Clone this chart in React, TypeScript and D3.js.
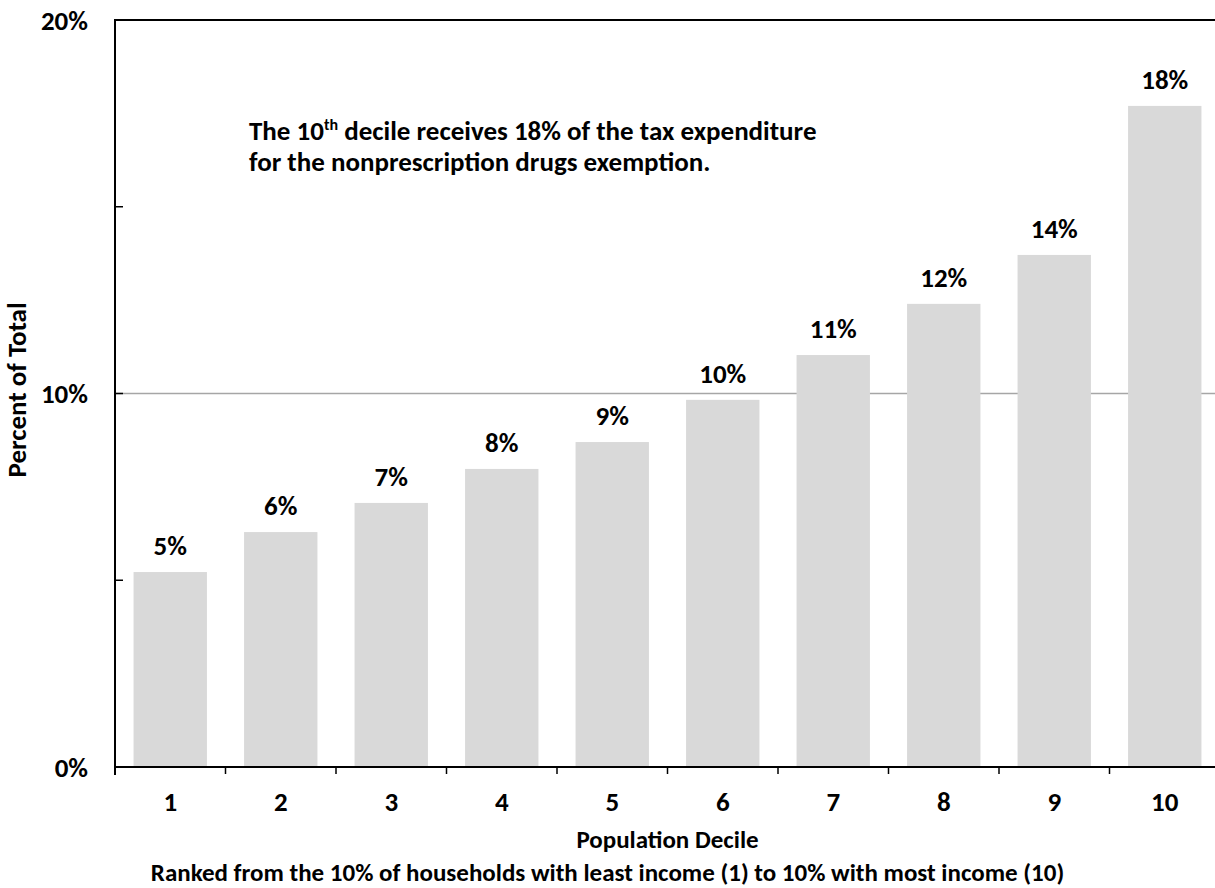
import React from 'react';
import * as d3 from 'd3';

const deciles = ['1', '2', '3', '4', '5', '6', '7', '8', '9', '10'];
const shares = [5.22, 6.29, 7.07, 7.98, 8.7, 9.83, 11.03, 12.4, 13.71, 17.7];
const barLabels = ['5%', '6%', '7%', '8%', '9%', '10%', '11%', '12%', '14%', '18%'];
const majorTicks = [0, 10, 20];
const minorTicks = [5, 15];
const yTickLabels = ['0%', '10%', '20%'];

const FONT = 'Carlito, Lato, "Open Sans", sans-serif';

export default function App() {
  const W = 1215;
  const H = 888;
  const left = 115;
  const right = 1220;
  const top = 20;
  const bottom = 767;

  const x = d3.scaleBand<string>().domain(deciles).range([left, right]).paddingInner(0.336).paddingOuter(0.168);
  const y = d3.scaleLinear().domain([0, 20]).range([bottom, top]);
  const step = x.step();
  const boundaries = d3.range(deciles.length + 1).map((i) => left + i * step);

  return (
    <svg width={W} height={H} style={{ position: 'absolute', left: 0, top: 0, background: '#fff' }} fontFamily={FONT} fontWeight="bold">
      {/* gridline at 10% */}
      <line x1={left} x2={W} y1={y(10)} y2={y(10)} stroke="#a6a6a6" strokeWidth={1.5} />
      {/* bars */}
      {shares.map((v, i) => (
        <rect key={i} x={x(deciles[i])} y={y(v)} width={x.bandwidth()} height={y(0) - y(v)} fill="#d9d9d9" />
      ))}
      {/* bar labels */}
      {shares.map((v, i) => (
        <text key={'l' + i} x={(x(deciles[i]) as number) + x.bandwidth() / 2} y={y(v) - 17} textAnchor="middle" fontSize={27} fill="#000">
          {barLabels[i]}
        </text>
      ))}
      {/* frame: top line */}
      <line x1={left} x2={W} y1={top} y2={top} stroke="#000" strokeWidth={2} />
      {/* y axis */}
      <line x1={left} x2={left} y1={top - 1} y2={bottom + 8} stroke="#000" strokeWidth={2} />
      {[...majorTicks, ...minorTicks].map((t) => (
        <line key={'yt' + t} x1={left} x2={left + 8} y1={y(t)} y2={y(t)} stroke="#000" strokeWidth={1.5} />
      ))}
      {majorTicks.map((t, i) => (
        <text key={'yl' + t} x={88} y={y(t)} dy="0.36em" textAnchor="end" fontSize={27} fill="#000">
          {yTickLabels[i]}
        </text>
      ))}
      {/* x axis */}
      <line x1={left - 1} x2={W} y1={bottom} y2={bottom} stroke="#000" strokeWidth={2} />
      {boundaries.map((b, i) => (
        <line key={'xt' + i} x1={b} x2={b} y1={bottom} y2={bottom + 7} stroke="#000" strokeWidth={1.5} />
      ))}
      {deciles.map((d) => (
        <text key={'xl' + d} x={(x(d) as number) + x.bandwidth() / 2} y={811} textAnchor="middle" fontSize={27} fill="#000">
          {d}
        </text>
      ))}
      {/* axis titles */}
      <text x={(left + right) / 2} y={848} textAnchor="middle" fontSize={25} fill="#000">
        Population Decile
      </text>
      <text x={W / 2} y={881} textAnchor="middle" fontSize={25} fill="#000">
        Ranked from the 10% of households with least income (1) to 10% with most income (10)
      </text>
      <text transform={`translate(26, 390) rotate(-90)`} textAnchor="middle" fontSize={27} fill="#000">
        Percent of Total
      </text>
      {/* annotation */}
      <text x={249} y={140} fontSize={27} fill="#000">
        The 10
        <tspan fontSize={16} dy={-10}>th</tspan>
        <tspan dy={10}> decile receives 18% of the tax expenditure</tspan>
      </text>
      <text x={249} y={171} fontSize={27} fill="#000">
        for the nonprescription drugs exemption.
      </text>
    </svg>
  );
}
